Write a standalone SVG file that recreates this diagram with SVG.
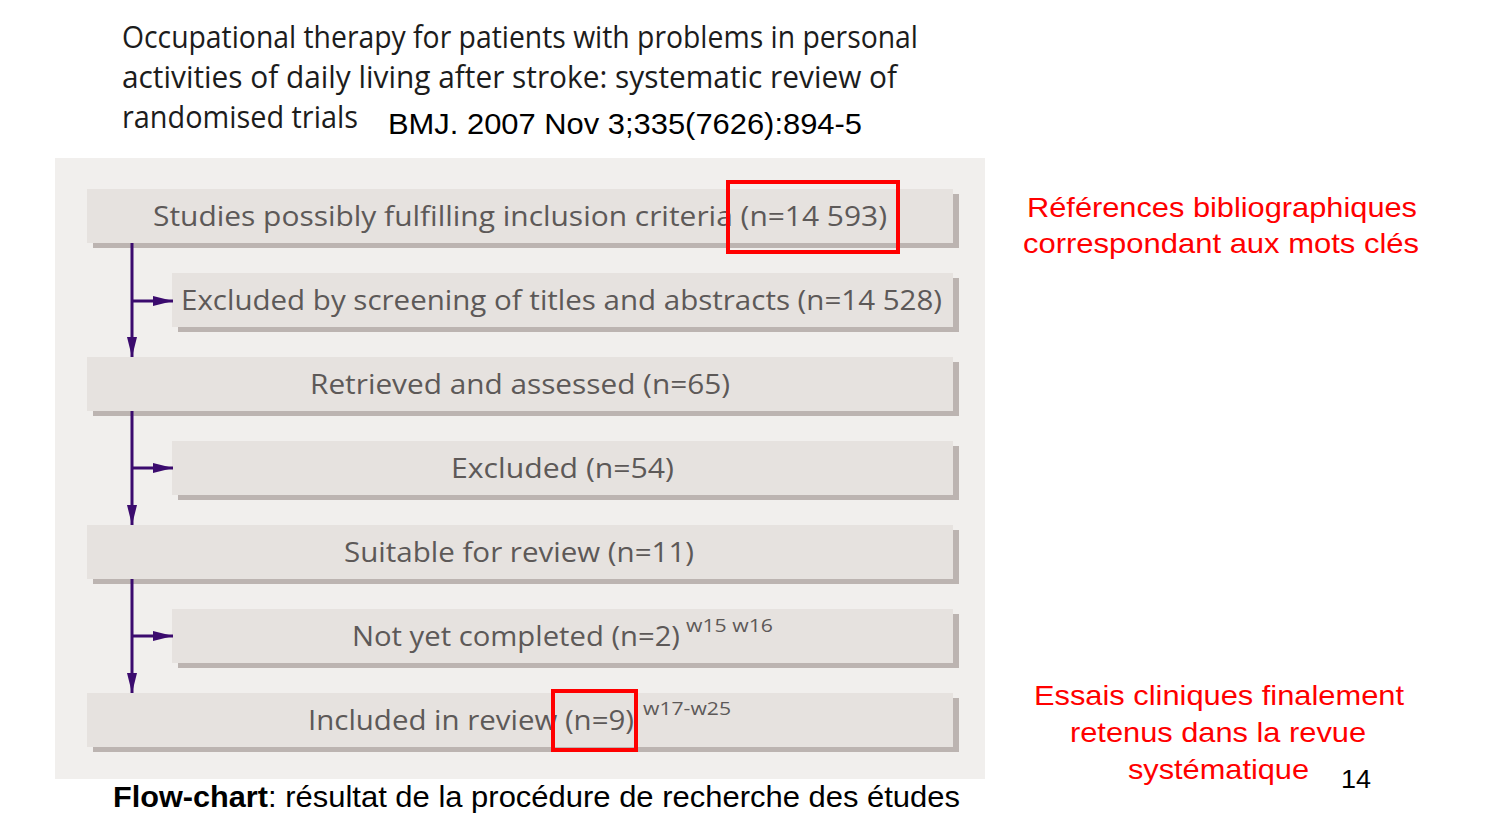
<svg xmlns="http://www.w3.org/2000/svg" width="1500" height="827" viewBox="0 0 1500 827">
  <defs>
    <style>
      .panel { fill: #f1efed; }
      .box { fill: #e6e2df; }
      .shadow { fill: #bcb4b1; }
      .btxt { font-family: "Open Sans", "Noto Sans", sans-serif; font-size: 28px; fill: #5d5958; }
      .sup { font-family: "Open Sans", "Noto Sans", sans-serif; font-size: 19px; fill: #5d5958; }
      .title { font-family: "Open Sans", "Noto Sans", sans-serif; font-size: 31px; fill: #1c1c1c; }
      .arial { font-family: "Liberation Sans", Arial, sans-serif; fill: #000; }
      .red { font-family: "Liberation Sans", Arial, sans-serif; font-size: 28px; fill: #ff0000; }
      .hl { fill: none; stroke: #ff0000; stroke-width: 4; }
      .conn { stroke: #3b0b6e; stroke-width: 3; fill: none; }
    </style>
    <marker id="ah" markerUnits="userSpaceOnUse" markerWidth="20" markerHeight="10" refX="20" refY="5" orient="auto">
      <path d="M0,0 L20,5 L0,10 z" fill="#3b0b6e"/>
    </marker>
  </defs>

  <rect width="1500" height="827" fill="#ffffff"/>

  <!-- title -->
  <g id="title">
    <text class="title" x="122" y="48" textLength="796" lengthAdjust="spacingAndGlyphs">Occupational therapy for patients with problems in personal</text>
    <text class="title" x="122" y="88" textLength="775" lengthAdjust="spacingAndGlyphs">activities of daily living after stroke: systematic review of</text>
    <text class="title" x="122" y="128" textLength="236" lengthAdjust="spacingAndGlyphs">randomised trials</text>
    <text class="arial" x="388" y="134" font-size="29" textLength="474" lengthAdjust="spacingAndGlyphs">BMJ. 2007 Nov 3;335(7626):894-5</text>
  </g>

  <!-- panel -->
  <rect class="panel" x="55" y="158" width="930" height="621"/>

  <g id="n1">
    <rect class="shadow" x="93" y="194" width="866" height="54"/>
    <rect class="box" x="87" y="189" width="866" height="54"/>
    <text class="btxt" x="153" y="226" textLength="734" lengthAdjust="spacingAndGlyphs">Studies possibly fulfilling inclusion criteria (n=14 593)</text>
  </g>
  <g id="n2">
    <rect class="shadow" x="178" y="278" width="781" height="54"/>
    <rect class="box" x="172" y="273" width="781" height="54"/>
    <text class="btxt" x="181" y="310" textLength="761" lengthAdjust="spacingAndGlyphs">Excluded by screening of titles and abstracts (n=14 528)</text>
  </g>
  <g id="n3">
    <rect class="shadow" x="93" y="362" width="866" height="54"/>
    <rect class="box" x="87" y="357" width="866" height="54"/>
    <text class="btxt" x="310" y="394" textLength="420" lengthAdjust="spacingAndGlyphs">Retrieved and assessed (n=65)</text>
  </g>
  <g id="n4">
    <rect class="shadow" x="178" y="446" width="781" height="54"/>
    <rect class="box" x="172" y="441" width="781" height="54"/>
    <text class="btxt" x="451" y="478" textLength="223" lengthAdjust="spacingAndGlyphs">Excluded (n=54)</text>
  </g>
  <g id="n5">
    <rect class="shadow" x="93" y="530" width="866" height="54"/>
    <rect class="box" x="87" y="525" width="866" height="54"/>
    <text class="btxt" x="344" y="562" textLength="350" lengthAdjust="spacingAndGlyphs">Suitable for review (n=11)</text>
  </g>
  <g id="n6">
    <rect class="shadow" x="178" y="614" width="781" height="54"/>
    <rect class="box" x="172" y="609" width="781" height="54"/>
    <text class="btxt" x="352" y="646" textLength="328" lengthAdjust="spacingAndGlyphs">Not yet completed (n=2)</text>
    <text class="sup" x="686" y="632" textLength="87" lengthAdjust="spacingAndGlyphs">w15 w16</text>
  </g>
  <g id="n7">
    <rect class="shadow" x="93" y="698" width="866" height="54"/>
    <rect class="box" x="87" y="693" width="866" height="54"/>
    <text class="btxt" x="308" y="730" textLength="326" lengthAdjust="spacingAndGlyphs">Included in review (n=9)</text>
    <text class="sup" x="643" y="715" textLength="88" lengthAdjust="spacingAndGlyphs">w17-w25</text>
  </g>

  <!-- connectors -->
  <g id="connectors">
    <line class="conn" x1="132" y1="243" x2="132" y2="357" marker-end="url(#ah)"/>
    <line class="conn" x1="132" y1="301" x2="173" y2="301" marker-end="url(#ah)"/>
    <line class="conn" x1="132" y1="411" x2="132" y2="525" marker-end="url(#ah)"/>
    <line class="conn" x1="132" y1="468" x2="173" y2="468" marker-end="url(#ah)"/>
    <line class="conn" x1="132" y1="579" x2="132" y2="693" marker-end="url(#ah)"/>
    <line class="conn" x1="132" y1="636" x2="173" y2="636" marker-end="url(#ah)"/>
  </g>

  <!-- highlights -->
  <g id="highlights">
    <rect class="hl" x="728" y="182" width="170" height="70"/>
    <rect class="hl" x="553" y="691" width="83" height="59"/>
  </g>

  <!-- annotations -->
  <g id="annot1">
    <text class="red" x="1027" y="217" textLength="390" lengthAdjust="spacingAndGlyphs">Références bibliographiques</text>
    <text class="red" x="1023" y="253" textLength="396" lengthAdjust="spacingAndGlyphs">correspondant aux mots clés</text>
  </g>
  <g id="annot2">
    <text class="red" x="1034" y="705" textLength="370" lengthAdjust="spacingAndGlyphs">Essais cliniques finalement</text>
    <text class="red" x="1070" y="742" textLength="296" lengthAdjust="spacingAndGlyphs">retenus dans la revue</text>
    <text class="red" x="1128" y="779" textLength="181" lengthAdjust="spacingAndGlyphs">systématique</text>
  </g>
  <text class="arial" x="1341" y="788" font-size="25" textLength="30" lengthAdjust="spacingAndGlyphs">14</text>

  <!-- caption -->
  <g id="caption">
    <text class="arial" x="113" y="807" font-size="29" font-weight="bold" textLength="155" lengthAdjust="spacingAndGlyphs">Flow-chart</text>
    <text class="arial" x="268" y="807" font-size="29" textLength="692" lengthAdjust="spacingAndGlyphs">: résultat de la procédure de recherche des études</text>
  </g>
</svg>
